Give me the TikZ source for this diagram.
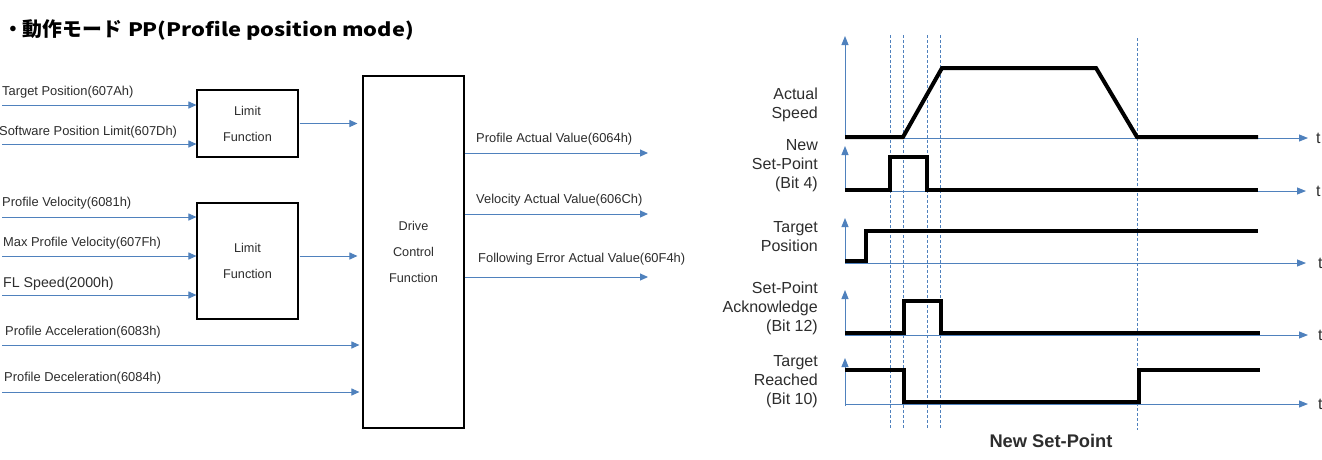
\documentclass[tikz,border=0pt]{standalone}
\usepackage{fontspec}
\setmainfont{Liberation Sans}
\newfontfamily\jpfont{Noto Sans CJK JP}
\usetikzlibrary{arrows.meta}

\definecolor{flowblue}{RGB}{79,129,189}
\definecolor{txt}{RGB}{45,45,45}

\begin{document}
\begin{tikzpicture}[x=1pt, y=-1pt,
  flow/.style={draw=flowblue, line width=1pt, -{Triangle[length=8pt,width=7pt]}},
  fbox/.style={draw=black, line width=1.1pt, align=center, text=txt, inner sep=0pt,
               font=\fontsize{12.7}{26}\selectfont, minimum width=101pt},
  lbl/.style={anchor=west, inner sep=0pt, text=txt, font=\fontsize{12.9}{15}\selectfont},
  sig/.style={line width=4pt, black, line join=miter},
  guide/.style={draw=flowblue, line width=0.9pt, dash pattern=on 3pt off 2pt},
  tax/.style={draw=flowblue, line width=1pt, -{Triangle[length=9pt,width=7pt]}},
  sname/.style={anchor=east, align=right, inner sep=0pt, text=txt,
                font=\fontsize{16}{19}\selectfont},
  tlbl/.style={anchor=west, inner sep=0pt, text=txt, font=\fontsize{16}{19}\selectfont}]

\fill[white] (0,0) rectangle (1322,459);
\useasboundingbox (0,0) rectangle (1322,459);

% heading
\node[anchor=west, inner sep=0pt, text=black, font=\jpfont\bfseries\fontsize{19.8}{22}\selectfont]
  (title) at (3,30) {・動作モード\hspace{6pt}\resizebox{286pt}{\height}{\fontsize{18.5}{22}\selectfont PP(Profile position mode)}};

% ---------------- block diagram ----------------
\node[fbox, minimum height=67pt]  (lim1)  at (247.5,123.5) {Limit\\Function};
\node[fbox, minimum height=116pt] (lim2)  at (247.5,261)   {Limit\\Function};
\node[fbox, minimum height=352pt] (drive) at (413.5,252)   {Drive\\Control\\Function};

% inputs
\coordinate (tp)  at (2,105);
\coordinate (spl) at (2,144);
\coordinate (pv)  at (2,217);
\coordinate (mpv) at (2,256);
\coordinate (fl)  at (2,295);
\coordinate (pa)  at (2,345);
\coordinate (pd)  at (2,392);

\node[lbl] (tpl)  at (2,92)   {Target Position(607Ah)};
\node[lbl] (spll) at (-1,132) {Software Position Limit(607Dh)};
\node[lbl] (pvl)  at (2,203)  {Profile Velocity(6081h)};
\node[lbl] (mpvl) at (3,243)  {Max Profile Velocity(607Fh)};
\node[lbl, font=\fontsize{14.2}{16}\selectfont] (fll) at (3,284) {FL Speed(2000h)};
\node[lbl] (pal)  at (5,332)  {Profile Acceleration(6083h)};
\node[lbl] (pdl)  at (4,378)  {Profile Deceleration(6084h)};

\draw[flow] (tp)  -- (tp  -| lim1.west);
\draw[flow] (spl) -- (spl -| lim1.west);
\draw[flow] (pv)  -- (pv  -| lim2.west);
\draw[flow] (mpv) -- (mpv -| lim2.west);
\draw[flow] (fl)  -- (fl  -| lim2.west);
\draw[flow, shorten >=3pt] (pa) -- (pa -| drive.west);
\draw[flow, shorten >=3pt] (pd) -- (pd -| drive.west);

\draw[flow, shorten <=1pt, shorten >=5pt] (lim1.east) -- (lim1.east -| drive.west);
\draw[flow, shorten <=1pt, shorten >=5pt] (lim2.east |- mpv) -- (drive.west |- mpv);

% outputs
\coordinate (o1) at (648,153);
\coordinate (o2) at (648,214);
\coordinate (o3) at (648,277);
\draw[flow] (drive.east |- o1) -- (o1);
\draw[flow] (drive.east |- o2) -- (o2);
\draw[flow] (drive.east |- o3) -- (o3);
\node[lbl] (o1l) at (476,139) {Profile Actual Value(6064h)};
\node[lbl] (o2l) at (476,200) {Velocity Actual Value(606Ch)};
\node[lbl] (o3l) at (478,259) {Following Error Actual Value(60F4h)};

% ---------------- timing chart ----------------
% event guides
\foreach \gx in {890,903,927,940} \draw[guide] (\gx,35) -- (\gx,428);
\draw[guide] (1137,38) -- (1137,430);

% axes
\draw[tax] (845,138) -- (845,36);
\draw[tax] (845,138) -- (1308,138);
\draw[tax] (845,191) -- (845,146);
\draw[tax] (845,191) -- (1306,191);
\draw[tax] (845,263) -- (845,218);
\draw[tax] (845,263) -- (1306,263);
\draw[tax] (845,335) -- (845,290);
\draw[tax] (845,335) -- (1308,335);
\draw[tax] (845,406) -- (845,358);
\draw[tax] (845,404) -- (1308,404);

% signal traces
\draw[sig] (845,137) -- (903,137) -- (942,68) -- (1096,68) -- (1137,137) -- (1258,137);
\draw[sig] (845,190) -- (890,190) -- (890,157) -- (927,157) -- (927,190) -- (1258,190);
\draw[sig] (845,261) -- (866,261) -- (866,231) -- (1258,231);
\draw[sig] (845,333) -- (904,333) -- (904,301) -- (941,301) -- (941,333) -- (1260,333);
\draw[sig] (845,370) -- (904,370) -- (904,402) -- (1139,402) -- (1139,370) -- (1260,370);

% signal names
\node[sname] (n1) at (818,105)   {Actual\\Speed};
\node[sname] (n2) at (818,166)   {New\\Set-Point\\(Bit 4)};
\node[sname] (n3) at (818,236.5) {Target\\Position};
\node[sname] (n4) at (818,308)   {Set-Point\\Acknowledge\\(Bit 12)};
\node[sname] (n5) at (818,382)   {Target\\Reached\\(Bit 10)};

% time labels at the axis ends
\node[tlbl] (t1) at (1316,138) {t};
\node[tlbl] (t2) at (1316,191) {t};
\node[tlbl] (t3) at (1318,263) {t};
\node[tlbl] (t4) at (1318,335) {t};
\node[tlbl] (t5) at (1318,404) {t};

\node[text=txt, inner sep=0pt, font=\bfseries\fontsize{18.3}{21}\selectfont] (nsp) at (1051,441) {New Set-Point};

\end{tikzpicture}
\end{document}
